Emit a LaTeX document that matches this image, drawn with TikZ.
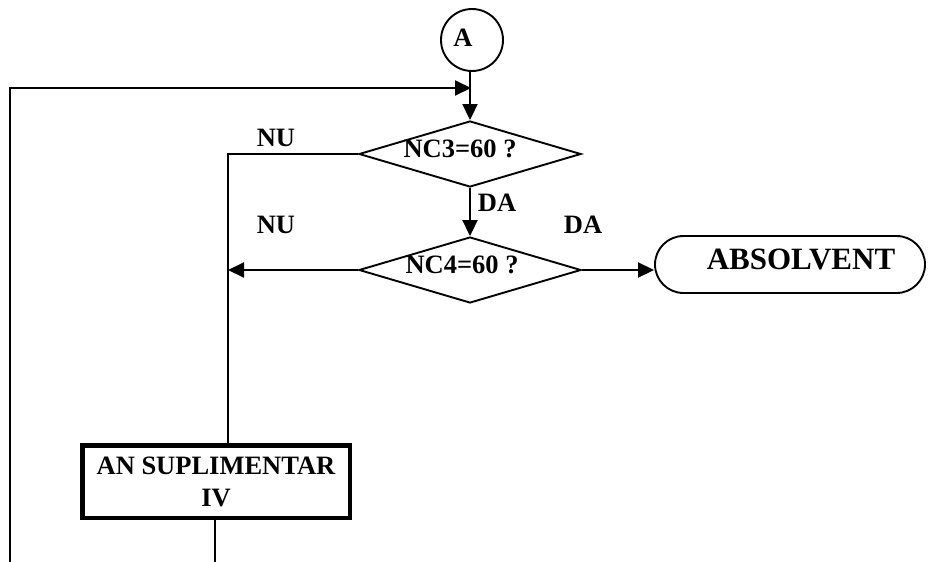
\documentclass[tikz,border=0pt]{standalone}
\usepackage{fontspec}
\setmainfont{Liberation Serif}
\usetikzlibrary{shapes.geometric,shapes.misc,arrows.meta}
\begin{document}
\begin{tikzpicture}[x=1pt,y=-1pt,
  line width=1.9pt,
  txt/.style={font=\fontsize{26.5}{32}\selectfont\bfseries,inner sep=0pt},
  dec/.style={draw,diamond,minimum width=222pt,minimum height=66pt,inner sep=0pt,aspect=3.36},
  arr/.style={-{Triangle[length=16pt,width=15pt]}},
]
\useasboundingbox (0,0) rectangle (929,562);

\node[circle,draw,minimum size=62pt,inner sep=0pt] (A) at (472,40) {};
\node[txt] (At) at (463,38) {A};
\coordinate (j) at (471,88);
\node[dec] (d1) at (470,154) {};
\node[txt] (t1) at (460,149) {NC3=60 ?};
\node[dec] (d2) at (470,270) {};
\node[txt] (t2) at (462,265) {NC4=60 ?};
\node[draw,rounded rectangle,minimum width=270pt,minimum height=57pt,inner sep=0pt] (abs) at (790,264.5) {};
\node[font=\fontsize{31}{35}\selectfont\bfseries,inner sep=0pt] (abst) at (801,259) {ABSOLVENT};
\node[draw,line width=4.5pt,minimum width=267.5pt,minimum height=72.5pt,inner sep=0pt,
      align=center,txt] (box) at (216,481.5) {AN SUPLIMENTAR\\IV};

\coordinate (l0) at (10,562);
\coordinate (b0) at (215,562);
\coordinate (c1) at (228,154);
\coordinate (c2) at (228,270);

\draw[arr] (A.south -| d1.north) -- (d1.north);
\draw[arr] (l0) |- (j);
\draw (d1.west) -| (c1 |- box.north);
\draw[arr] (d1.south) -- (d2.north);
\draw[arr] (d2.west) -- (c2);
\draw[arr] (d2.east) -- (d2.east -| abs.west);
\draw (b0 |- box.south) -- (b0);

\node[txt] (nu1) at (276,138) {NU};
\node[txt] (nu2) at (276,225) {NU};
\node[txt] (da1) at (497,203) {DA};
\node[txt] (da2) at (583,225) {DA};
\end{tikzpicture}
\end{document}
